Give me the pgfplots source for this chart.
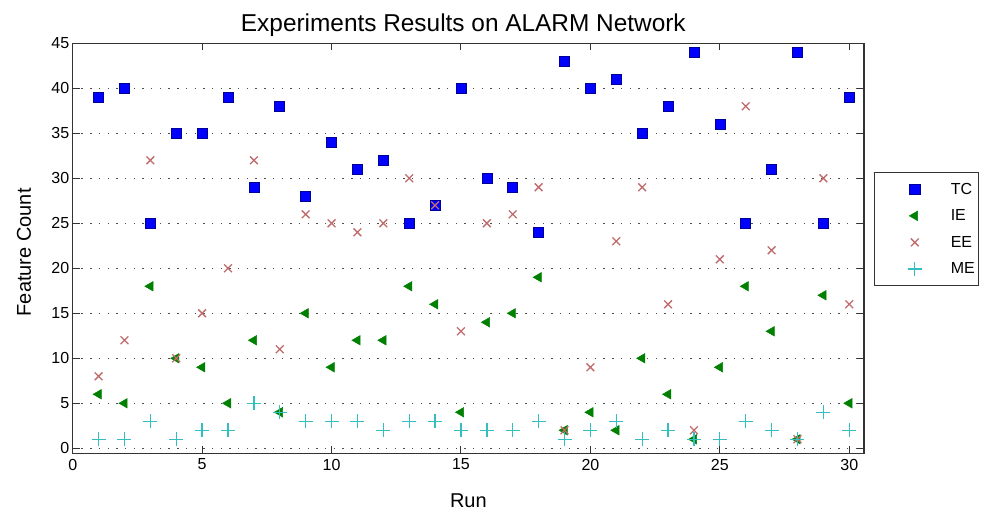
\documentclass[border=0pt]{standalone}
\usepackage{fontspec}
\setmainfont{Liberation Sans}
\usepackage{pgfplots}
\pgfplotsset{compat=1.18}

\definecolor{tccol}{rgb}{0,0,1}
\definecolor{iecol}{rgb}{0,0.5,0}
\definecolor{eecol}{rgb}{0.75,0.42,0.42}
\definecolor{mecol}{rgb}{0.2,0.75,0.75}

\begin{document}
\begin{tikzpicture}
\path[use as bounding box] (-72.7pt,-60.7pt) rectangle (914.3pt,453.3pt);
\begin{axis}[
    scale only axis,
    width=791.3pt, height=410pt,
    xmin=0, xmax=30.57,
    ymin=-0.56, ymax=45,
    xtick={0,5,...,30},
    ytick={0,5,...,45},
    tick align=inside,
    major tick length=7pt,
    tick style={line width=1pt, color=black!80},
    axis line style={line width=1.2pt, color=black!80},
    ymajorgrids,
    grid style={line width=1.4pt, color=black!70, dash pattern=on 1.4pt off 7.3pt},
    /pgf/number format/assume math mode=true,
    tick label style={font=\fontsize{16}{18}\selectfont},
    xticklabel style={yshift=-2pt},
    title={Experiments Results on ALARM Network},
    title style={font=\fontsize{24.4}{26}\selectfont, at={(axis description cs:0.5,1)}, anchor=center, yshift=12pt, xshift=-5pt},
    xlabel={Run},
    xlabel style={font=\fontsize{20}{22}\selectfont, at={(axis description cs:0.5,0)}, anchor=center, yshift=-47pt},
    ylabel={Feature Count},
    ylabel style={font=\fontsize{20}{22}\selectfont, at={(axis description cs:0,0.5)}, anchor=center, xshift=-4pt, yshift=48.7pt},
    legend style={at={(rel axis cs:1.013,0.685)}, anchor=north west,
        draw=black!80, line width=1pt,
        font=\fontsize{16}{18}\selectfont,
        inner xsep=2pt, inner ysep=8pt,
        row sep=10pt,
        cells={anchor=west}},
    legend image code/.code={\path[draw=none, fill=none] (-38pt,0pt) rectangle (34pt,0.1pt); \draw[#1, line width=1.3pt] plot coordinates {(0pt,0pt)};},
]
\addplot[only marks, mark=square*, mark size=5pt, color=tccol, mark options={draw=blue!60!black, line width=0.6pt, fill=tccol}] coordinates {
(1,39) (2,40) (3,25) (4,35) (5,35) (6,39) (7,29) (8,38) (9,28) (10,34)
(11,31) (12,32) (13,25) (14,27) (15,40) (16,30) (17,29) (18,24) (19,43) (20,40)
(21,41) (22,35) (23,38) (24,44) (25,36) (26,25) (27,31) (28,44) (29,25) (30,39)
};
\addlegendentry{TC}
\addplot[only marks, mark=triangle*, mark size=5.5pt, color=iecol, mark options={rotate=90, line width=0.5pt}] coordinates {
(1,6) (2,5) (3,18) (4,10) (5,9) (6,5) (7,12) (8,4) (9,15) (10,9)
(11,12) (12,12) (13,18) (14,16) (15,4) (16,14) (17,15) (18,19) (19,2) (20,4)
(21,2) (22,10) (23,6) (24,1) (25,9) (26,18) (27,13) (28,1) (29,17) (30,5)
};
\addlegendentry{IE}
\addplot[only marks, mark=x, mark size=5.5pt, color=eecol, mark options={line width=1.3pt}] coordinates {
(1,8) (2,12) (3,32) (4,10) (5,15) (6,20) (7,32) (8,11) (9,26) (10,25)
(11,24) (12,25) (13,30) (14,27) (15,13) (16,25) (17,26) (18,29) (19,2) (20,9)
(21,23) (22,29) (23,16) (24,2) (25,21) (26,38) (27,22) (28,1) (29,30) (30,16)
};
\addlegendentry{EE}
\addplot[only marks, mark=+, mark size=7pt, color=mecol, mark options={line width=1.3pt}] coordinates {
(1,1) (2,1) (3,3) (4,1) (5,2) (6,2) (7,5) (8,4) (9,3) (10,3)
(11,3) (12,2) (13,3) (14,3) (15,2) (16,2) (17,2) (18,3) (19,1) (20,2)
(21,3) (22,1) (23,2) (24,1) (25,1) (26,3) (27,2) (28,1) (29,4) (30,2)
};
\addlegendentry{ME}
\end{axis}
\end{tikzpicture}
\end{document}
